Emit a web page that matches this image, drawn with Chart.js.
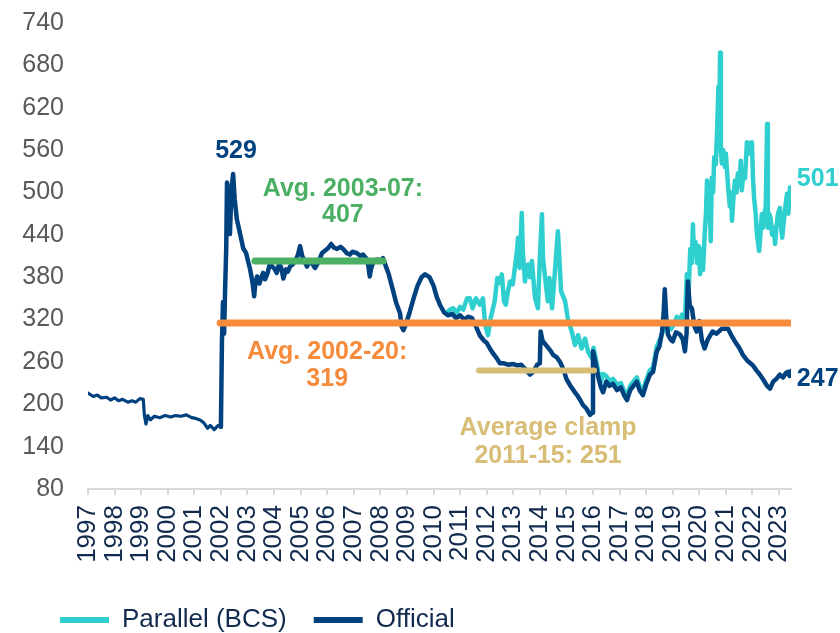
<!DOCTYPE html>
<html>
<head>
<meta charset="utf-8">
<script src="https://cdn.jsdelivr.net/npm/chart.js@4.4.1/dist/chart.umd.min.js"></script>
<style>
  html, body { margin: 0; padding: 0; background: #fff; }
</style>
</head>
<body>
<canvas id="myChart" width="840" height="633"></canvas>
<script>
// exchange rate, official vs parallel (BCS)
const yearLabels = [1997, 1998, 1999, 2000, 2001, 2002, 2003, 2004, 2005, 2006, 2007, 2008, 2009,
    2010, 2011, 2012, 2013, 2014, 2015, 2016, 2017, 2018, 2019, 2020, 2021, 2022, 2023];

const officialYears = [
    1997.0, 1997.2, 1997.35, 1997.5, 1997.7, 1997.85, 1998.0, 1998.15, 1998.3, 1998.5, 1998.65, 1998.8, 1998.95,
    1999.08, 1999.12, 1999.18, 1999.25, 1999.35, 1999.5, 1999.7, 1999.9, 2000.1, 2000.3, 2000.5, 2000.7, 2000.9,
    2001.05, 2001.2, 2001.35, 2001.5, 2001.6, 2001.75, 2001.9, 2002.0,
    2002.04, 2002.08, 2002.12, 2002.16, 2002.2, 2002.23, 2002.28, 2002.34, 2002.4, 2002.46, 2002.52, 2002.6,
    2002.72, 2002.84, 2002.95, 2003.1, 2003.2, 2003.25, 2003.3, 2003.36, 2003.45, 2003.52, 2003.59, 2003.66,
    2003.75, 2003.85, 2003.93, 2004.02, 2004.1, 2004.2, 2004.28, 2004.35, 2004.45, 2004.52, 2004.6, 2004.7,
    2004.8, 2004.9, 2004.98, 2005.06, 2005.15, 2005.24, 2005.33, 2005.42, 2005.54, 2005.65, 2005.74, 2005.8,
    2005.9, 2006.03, 2006.15, 2006.25, 2006.37, 2006.5, 2006.6, 2006.74, 2006.85, 2006.95, 2007.12, 2007.25,
    2007.35, 2007.5, 2007.55, 2007.6, 2007.65, 2007.72, 2007.8, 2007.9, 2008.0, 2008.1, 2008.2, 2008.3,
    2008.47, 2008.6, 2008.74, 2008.8, 2008.87, 2008.95, 2009.1, 2009.25, 2009.4, 2009.55, 2009.68, 2009.85,
    2010.0, 2010.12, 2010.24, 2010.4, 2010.55, 2010.7, 2010.85, 2011.0, 2011.15, 2011.3, 2011.45, 2011.6,
    2011.75, 2011.9, 2012.0, 2012.12, 2012.24, 2012.38, 2012.5, 2012.65, 2012.8, 2013.0, 2013.15, 2013.3,
    2013.45, 2013.63, 2013.75, 2013.9, 2014.0, 2014.03, 2014.1, 2014.27, 2014.4, 2014.5, 2014.65, 2014.76,
    2014.9, 2015.0, 2015.15, 2015.3, 2015.4, 2015.52, 2015.62, 2015.75, 2015.89, 2015.97, 2016.0, 2016.08,
    2016.2, 2016.3, 2016.38, 2016.5, 2016.62, 2016.75, 2016.9, 2017.05, 2017.18, 2017.28, 2017.4, 2017.52,
    2017.65, 2017.75, 2017.88, 2018.0, 2018.14, 2018.26, 2018.4, 2018.5, 2018.6, 2018.66, 2018.7, 2018.76,
    2018.82, 2018.92, 2019.0, 2019.12, 2019.27, 2019.38, 2019.46, 2019.52, 2019.57, 2019.64, 2019.72, 2019.82,
    2019.9, 2020.0, 2020.1, 2020.2, 2020.32, 2020.5, 2020.65, 2020.85, 2021.08, 2021.2, 2021.34, 2021.5,
    2021.64, 2021.8, 2022.02, 2022.15, 2022.28, 2022.42, 2022.55, 2022.66, 2022.78, 2022.9, 2023.03, 2023.15,
    2023.25, 2023.33, 2023.4, 2023.45
];
const officialValues = [
    216, 211, 213, 209, 210, 206, 209, 205, 207, 203, 205, 203, 208,
    207, 185, 172, 184, 178, 183, 181, 184, 182, 184, 183, 185, 181,
    180, 178, 174, 166, 170, 164, 170, 168,
    290, 345, 300, 365, 420, 514, 500, 441, 505, 526, 490, 462,
    442, 421, 414, 391, 370, 353, 372, 381, 371, 380, 386, 377,
    385, 400, 395, 392, 386, 400, 392, 378, 391, 388, 395, 398,
    403, 412, 424, 410, 402, 395, 403, 400, 393, 400, 408, 414,
    417, 421, 427, 422, 420, 423, 420, 414, 412, 416, 414, 410,
    412, 405, 395, 381, 392, 400, 404, 405, 403, 407, 396, 386,
    362, 343, 329, 310, 305, 312, 330, 350, 368, 380, 384, 380,
    368, 352, 341, 330, 326, 328, 322, 326, 320, 324, 322, 310,
    297, 290, 287, 279, 272, 265, 258, 258, 256, 257, 255, 256,
    250, 242, 246, 256, 258, 303, 290, 282, 276, 270, 266, 260,
    248, 236, 226, 218, 213, 206, 199, 194, 185, 188, 275, 262,
    238, 224, 217, 232, 226, 229, 220, 224, 212, 206, 220, 226,
    232, 220, 213, 228, 242, 246, 275, 282, 303, 330, 363, 320,
    299, 292, 289, 302, 299, 292, 275, 300, 374, 340, 336, 310,
    303, 318, 290, 279, 292, 303, 300, 307, 307, 298, 289, 280,
    270, 262, 255, 248, 242, 234, 226, 222, 232, 236, 242, 238,
    244, 246, 240, 247
];

const parallelYears = [
    2010.5, 2010.62, 2010.74, 2010.88, 2011.0, 2011.12, 2011.26, 2011.37, 2011.47, 2011.6, 2011.75, 2011.86,
    2011.94, 2012.05, 2012.15, 2012.3, 2012.4, 2012.5, 2012.57, 2012.65, 2012.72, 2012.8, 2012.88, 2012.98,
    2013.05, 2013.14, 2013.18, 2013.24, 2013.32, 2013.36, 2013.44, 2013.5, 2013.56, 2013.63, 2013.7, 2013.82,
    2013.93, 2014.0, 2014.08, 2014.12, 2014.2, 2014.3, 2014.36, 2014.46, 2014.57, 2014.68, 2014.72, 2014.8,
    2014.95, 2015.05, 2015.2, 2015.32, 2015.44, 2015.57, 2015.7, 2015.82, 2015.96, 2016.02, 2016.1, 2016.2,
    2016.3, 2016.38, 2016.5, 2016.62, 2016.75, 2016.9, 2017.05, 2017.18, 2017.28, 2017.4, 2017.52, 2017.65,
    2017.75, 2017.88, 2018.0, 2018.14, 2018.26, 2018.4, 2018.5, 2018.6, 2018.7, 2018.82, 2018.92, 2019.0,
    2019.16, 2019.27, 2019.35, 2019.46, 2019.53, 2019.6, 2019.66, 2019.72, 2019.76, 2019.8, 2019.86, 2019.92,
    2019.98, 2020.03, 2020.08, 2020.14, 2020.2, 2020.25, 2020.29, 2020.34, 2020.38, 2020.43, 2020.47, 2020.52,
    2020.56, 2020.62, 2020.67, 2020.72, 2020.76, 2020.78, 2020.81, 2020.85, 2020.9, 2020.96, 2021.0, 2021.05,
    2021.1, 2021.15, 2021.2, 2021.23, 2021.28, 2021.34, 2021.4, 2021.45, 2021.5, 2021.56, 2021.6, 2021.66,
    2021.72, 2021.79, 2021.85, 2021.9, 2021.98, 2022.02, 2022.06, 2022.12, 2022.17, 2022.2, 2022.25, 2022.3,
    2022.35, 2022.4, 2022.45, 2022.5, 2022.55, 2022.58, 2022.63, 2022.68, 2022.74, 2022.8, 2022.85, 2022.9,
    2022.96, 2023.03, 2023.08, 2023.12, 2023.18, 2023.24, 2023.3, 2023.35, 2023.41, 2023.45
];
const parallelValues = [
    330, 334, 336, 330, 338, 334, 350, 350, 336, 350, 341, 350,
    313, 298, 322, 346, 379, 372, 384, 346, 341, 360, 374, 370,
    390, 417, 436, 393, 471, 417, 374, 390, 398, 380, 403, 350,
    336, 407, 469, 407, 379, 346, 379, 336, 389, 445, 417, 360,
    346, 322, 303, 284, 298, 279, 293, 274, 265, 280, 266, 245,
    232, 243, 240, 233, 236, 228, 230, 218, 212, 226, 232, 238,
    226, 220, 234, 248, 252, 282, 290, 300, 310, 312, 306, 310,
    324, 318, 327, 318, 384, 360, 420, 400, 455, 412, 430, 400,
    424, 384, 420, 390, 440, 469, 517, 480, 500, 431, 521, 500,
    550, 540, 588, 650, 620, 698, 560, 541, 560, 536, 555, 526,
    500, 480, 500, 460, 490, 517, 500, 527, 510, 545, 503, 530,
    520, 571, 555, 570, 571, 520, 493, 470, 440, 431, 417, 440,
    469, 450, 470, 480, 597, 450, 470, 464, 440, 450, 427, 450,
    470, 478, 450, 436, 460, 480, 498, 470, 507, 501
];

// averages drawn as flat segments
const avgNames = ['Avg. 2003-07', 'Avg. 2002-20', 'Average clamp 2011-15'];
const avgStart = [2003.28, 2001.97, 2011.71];
const avgEnd = [2008.1, 2023.45, 2016.04];
const avgLevel = [403, 315, 248];
const avgColors = ['#4cb064', '#f68b3c', '#d8bd77'];

const NAVY = '#00427f';
const TEAL = '#2fcfcf';
const TEXT = '#112a4e';
const FONT = "'Liberation Sans', Arial, sans-serif";

const notes = [
    { lines: ['529'], x: 2002.57, y: [559], color: NAVY, align: 'center' },
    { lines: ['Avg. 2003-07:', '407'], x: 2006.59, y: [505, 468], color: avgColors[0], align: 'center' },
    { lines: ['Avg. 2002-20:', '319'], x: 2006.0, y: [274, 235], color: avgColors[1], align: 'center' },
    { lines: ['Average clamp', '2011-15: 251'], x: 2014.31, y: [166, 127], color: avgColors[2], align: 'center' },
    { lines: ['501'], x: 2023.67, y: [519], color: TEAL, align: 'left' },
    { lines: ['247'], x: 2023.67, y: [236], color: NAVY, align: 'left' },
];

const notesPlugin = {
    id: 'notes',
    afterLayout(chart) {
        // legend starts under the y labels, not at the canvas edge
        chart.legend.left += 33;
        chart.legend.right += 33;
    },
    afterDatasetsDraw(chart) {
        const { ctx } = chart;
        const xs = chart.scales.x;
        const ys = chart.scales.y;
        ctx.save();
        ctx.font = 'bold 25px ' + FONT;
        ctx.textBaseline = 'middle';
        notes.forEach((n) => {
            ctx.fillStyle = n.color;
            ctx.textAlign = n.align;
            n.lines.forEach((t, i) => {
                ctx.fillText(t, xs.getPixelForValue(n.x), ys.getPixelForValue(n.y[i]));
            });
        });
        ctx.restore();
    }
};

function toPoints(xs, ys) {
    return xs.map((x, i) => ({ x: x, y: ys[i] }));
}

function createChart() {
    Chart.defaults.font.family = FONT;

    const datasets = [
        {
            label: 'Parallel (BCS)',
            data: toPoints(parallelYears, parallelValues),
            borderColor: TEAL,
            backgroundColor: TEAL,
            borderWidth: 4.5,
            order: 2,
        },
        {
            label: 'Official',
            data: toPoints(officialYears, officialValues),
            borderColor: NAVY,
            backgroundColor: NAVY,
            borderWidth: 4.5,
            segment: {
                borderWidth: (c) => (c.p0.parsed.x < 2002 ? 3.2 : 4.5),
            },
            order: 1,
        },
    ];
    avgNames.forEach((name, i) => {
        datasets.push({
            label: name,
            data: [{ x: avgStart[i], y: avgLevel[i] }, { x: avgEnd[i], y: avgLevel[i] }],
            borderColor: avgColors[i],
            backgroundColor: avgColors[i],
            borderWidth: i === 2 ? 6 : 7,
            borderCapStyle: 'round',
            order: 0,
        });
    });

    const ctx = document.getElementById('myChart').getContext('2d');
    new Chart(ctx, {
        type: 'line',
        data: { datasets: datasets },
        options: {
            responsive: false,
            animation: false,
            devicePixelRatio: 1,
            elements: {
                point: { radius: 0, hoverRadius: 0 },
                line: { tension: 0, borderJoinStyle: 'round', borderCapStyle: 'round' },
            },
            layout: { padding: { left: 0, right: 49, top: 23, bottom: -10 } },
            scales: {
                x: {
                    type: 'linear',
                    min: 1997,
                    max: 2023.45,
                    afterBuildTicks: (scale) => {
                        scale.ticks = yearLabels.map((v) => ({ value: v }));
                    },
                    afterFit: (scale) => { scale.height = 91; },
                    grid: {
                        drawOnChartArea: false,
                        color: '#d9d9d9',
                        tickLength: 6,
                        lineWidth: 2,
                    },
                    border: { color: '#d9d9d9', width: 2 },
                    ticks: {
                        autoSkip: false,
                        minRotation: 90,
                        maxRotation: 90,
                        padding: 10,
                        color: TEXT,
                        font: { size: 26 },
                        callback: (value) => String(value),
                    },
                },
                y: {
                    min: 80,
                    max: 740,
                    afterFit: (scale) => { scale.width = 88; },
                    // hidden tick marks keep the labels 24px off the plot
                    grid: { display: false, drawTicks: true, tickLength: 24 },
                    border: { display: false },
                    ticks: {
                        stepSize: 60,
                        padding: 0,
                        color: '#595959',
                        font: { size: 25 },
                    },
                },
            },
            plugins: {
                tooltip: { enabled: false },
                legend: {
                    position: 'bottom',
                    align: 'start',
                    labels: {
                        usePointStyle: true,
                        pointStyle: 'line',
                        pointStyleWidth: 49,
                        padding: 27,
                        color: TEXT,
                        font: { size: 26 },
                        generateLabels: (chart) => Chart.defaults.plugins.legend.labels
                            .generateLabels(chart)
                            .filter((item) => item.datasetIndex < 2)
                            .sort((a, b) => a.datasetIndex - b.datasetIndex)
                            .map((item) => Object.assign(item, { lineWidth: 6 })),
                    },
                },
            },
        },
        plugins: [notesPlugin],
    });
}

createChart();
</script>
</body>
</html>
